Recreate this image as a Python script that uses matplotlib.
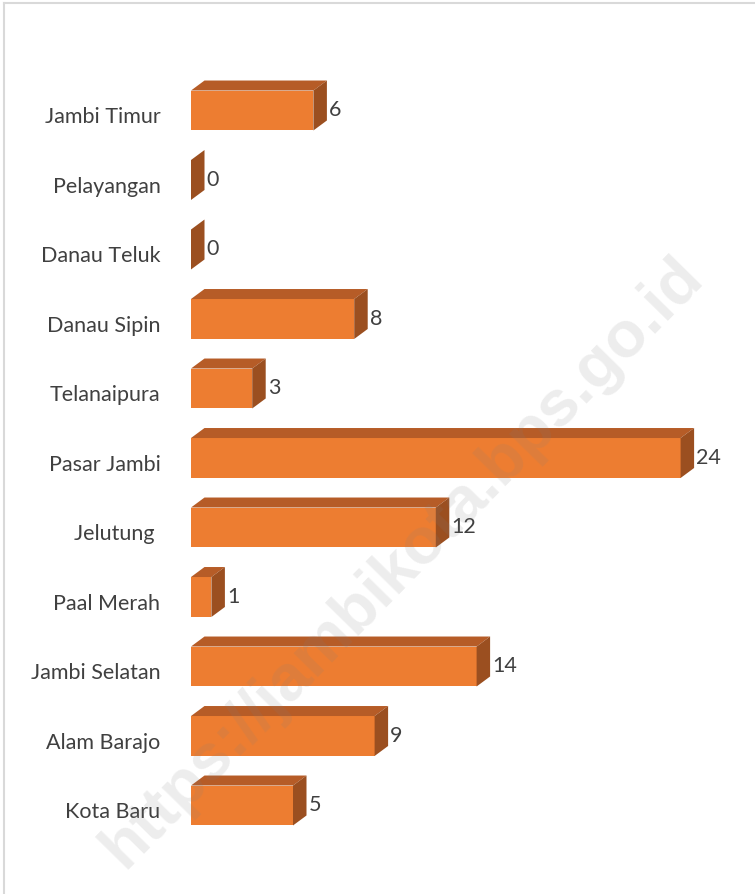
import matplotlib.pyplot as plt
from matplotlib.patches import Polygon
from matplotlib.lines import Line2D

kecamatan = ['Jambi Timur', 'Pelayangan', 'Danau Teluk', 'Danau Sipin', 'Telanaipura',
             'Pasar Jambi', 'Jelutung ', 'Paal Merah', 'Jambi Selatan', 'Alam Barajo',
             'Kota Baru']
nilai = [6, 0, 0, 8, 3, 24, 12, 1, 14, 9, 5]

W, H = 755, 895
fig = plt.figure(figsize=(W / 100, H / 100), dpi=100)
plt.rcParams['font.family'] = ['Lato', 'DejaVu Sans']

# axes placed so that 1 unit ~ 20.4 px, rows 69.5 px apart
ax_top, ax_h = 20, 855
ax = fig.add_axes([191 / W, 1 - (ax_top + ax_h) / H, 544 / W, ax_h / H])
ax.set_xlim(0, 544 / 20.4)
row = 69.5
top_lim = -(111.5 - ax_top) / row
ax.set_ylim(top_lim + ax_h / row, top_lim)
ax.axis('off')

front = '#ED7D31'
top_c = '#B65C27'
side_c = '#9B4F20'
h = 0.575          # front face height in rows
dx = 13.5 / 20.4   # depth offset in x units
dy = 10 / row      # depth offset in rows

for i, (nama, v) in enumerate(zip(kecamatan, nilai)):
    y0, y1 = i - h / 2, i + h / 2   # top, bottom of front face (inverted axis)
    if v > 0:
        ax.add_patch(Polygon([(0, y0), (v, y0), (v, y1), (0, y1)],
                             closed=True, fc=front, ec='none'))
        ax.add_patch(Polygon([(0, y0), (dx, y0 - dy), (v + dx, y0 - dy), (v, y0)],
                             closed=True, fc=top_c, ec='none'))
    ax.add_patch(Polygon([(v, y0), (v + dx, y0 - dy), (v + dx, y1 - dy), (v, y1)],
                         closed=True, fc=side_c, ec='none'))
    ax.text(v + dx + 0.1, i - 0.02, str(v), ha='left', va='center',
            fontsize=15.5, color='#404040')
    ax.text(-1.5, i + 0.08, nama, ha='right', va='center',
            fontsize=15.5, color='#404040')

# watermark
fig.text(402 / W, 1 - 562 / H, 'https://jambikota.bps.go.id', rotation=45.5,
         ha='center', va='center', fontsize=47, fontweight='bold',
         color='#808080', alpha=0.14, family=['Liberation Sans', 'DejaVu Sans'])

# chart area border (left and top visible)
fig.add_artist(Line2D([3.5 / W, 3.5 / W], [0, 1 - 4 / H], color='#D9D9D9', lw=1.5,
                      transform=fig.transFigure))
fig.add_artist(Line2D([3.5 / W, 1], [1 - 4 / H, 1 - 4 / H], color='#D9D9D9', lw=1.5,
                      transform=fig.transFigure))

fig.savefig('out.png', dpi=100, facecolor='white')
